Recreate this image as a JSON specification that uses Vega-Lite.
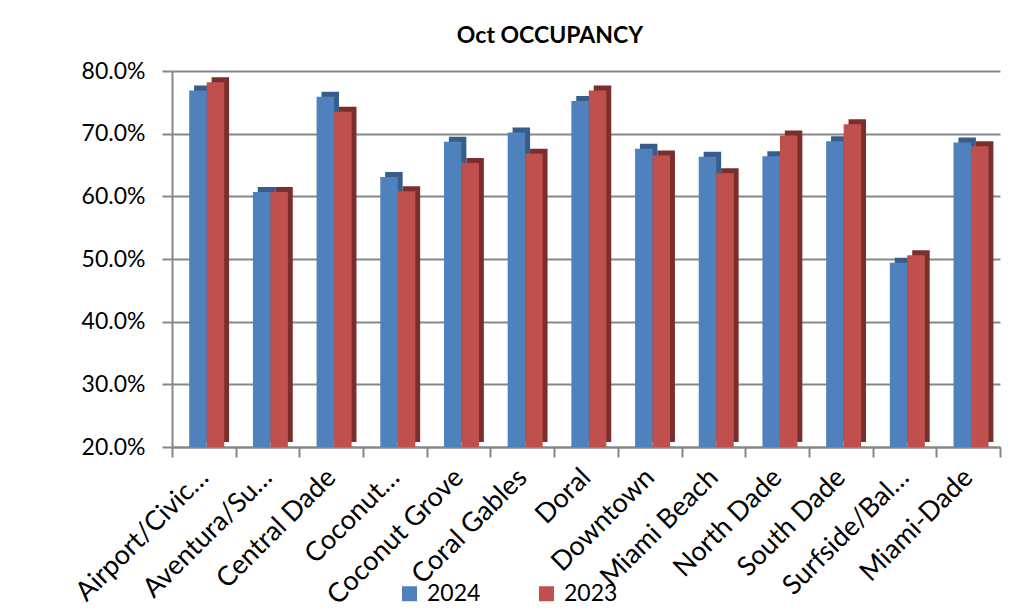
{
  "$schema": "https://vega.github.io/schema/vega-lite/v6.json",
  "autosize": "none",
  "width": 828,
  "height": 376,
  "padding": {"left": 172, "top": 71, "right": 26, "bottom": 167},
  "background": "white",
  "title": {
    "text": "Oct OCCUPANCY",
    "font": "Lato",
    "fontSize": 23,
    "fontWeight": "bold",
    "color": "#000000",
    "anchor": "middle",
    "dx": -36,
    "offset": 12
  },
  "config": {
    "view": {"stroke": null},
    "font": "Lato"
  },
  "data": {
    "values": [
      {"area": "Airport/Civic…", "year": "2024", "occupancy": 0.769},
      {"area": "Airport/Civic…", "year": "2023", "occupancy": 0.782},
      {"area": "Aventura/Su…", "year": "2024", "occupancy": 0.607},
      {"area": "Aventura/Su…", "year": "2023", "occupancy": 0.607},
      {"area": "Central Dade", "year": "2024", "occupancy": 0.759},
      {"area": "Central Dade", "year": "2023", "occupancy": 0.735},
      {"area": "Coconut…", "year": "2024", "occupancy": 0.631},
      {"area": "Coconut…", "year": "2023", "occupancy": 0.608},
      {"area": "Coconut Grove", "year": "2024", "occupancy": 0.687},
      {"area": "Coconut Grove", "year": "2023", "occupancy": 0.653},
      {"area": "Coral Gables", "year": "2024", "occupancy": 0.702},
      {"area": "Coral Gables", "year": "2023", "occupancy": 0.668},
      {"area": "Doral", "year": "2024", "occupancy": 0.752},
      {"area": "Doral", "year": "2023", "occupancy": 0.769},
      {"area": "Downtown", "year": "2024", "occupancy": 0.676},
      {"area": "Downtown", "year": "2023", "occupancy": 0.665},
      {"area": "Miami Beach", "year": "2024", "occupancy": 0.663},
      {"area": "Miami Beach", "year": "2023", "occupancy": 0.637},
      {"area": "North Dade", "year": "2024", "occupancy": 0.664},
      {"area": "North Dade", "year": "2023", "occupancy": 0.697},
      {"area": "South Dade", "year": "2024", "occupancy": 0.688},
      {"area": "South Dade", "year": "2023", "occupancy": 0.715},
      {"area": "Surfside/Bal…", "year": "2024", "occupancy": 0.494},
      {"area": "Surfside/Bal…", "year": "2023", "occupancy": 0.506},
      {"area": "Miami-Dade", "year": "2024", "occupancy": 0.686},
      {"area": "Miami-Dade", "year": "2023", "occupancy": 0.680}
    ]
  },
  "encoding": {
    "x": {
      "field": "area",
      "type": "nominal",
      "sort": null,
      "title": null,
      "scale": {"paddingInner": 0, "paddingOuter": 0},
      "axis": {
        "labelAngle": -45,
        "labelAlign": "right",
        "labelBaseline": "middle",
        "labelFont": "Lato",
        "labelFontSize": 27,
        "labelColor": "#000000",
        "labelPadding": 16,
        "labelLimit": 300,
        "labelOverlap": false,
        "tickBand": "extent",
        "tickSize": 10,
        "tickColor": "#878787",
        "tickWidth": 2,
        "domainColor": "#878787",
        "domainWidth": 2,
        "grid": false
      }
    },
    "y": {
      "field": "occupancy",
      "type": "quantitative",
      "title": null,
      "scale": {"domain": [0.2, 0.8], "zero": false, "nice": false},
      "axis": {
        "format": ".1%",
        "values": [0.2, 0.3, 0.4, 0.5, 0.6, 0.7, 0.8],
        "labelFont": "Lato",
        "labelFontSize": 23,
        "labelColor": "#000000",
        "labelPadding": 17,
        "tickSize": 10,
        "tickColor": "#878787",
        "tickWidth": 2,
        "domainColor": "#878787",
        "domainWidth": 2,
        "grid": true,
        "gridColor": "#878787",
        "gridWidth": 2
      }
    },
    "y2": {"datum": 0.2}
  },
  "layer": [
    {
      "mark": {"type": "bar", "yOffset": -5, "y2Offset": -5},
      "encoding": {
        "xOffset": {
          "field": "year",
          "type": "nominal",
          "sort": ["2024", "2023"],
          "scale": {"paddingInner": 0, "paddingOuter": 0.82, "align": 0.77}
        },
        "color": {
          "condition": {"test": "datum.year === '2024'", "value": "#385D8A"},
          "value": "#7B2F2D"
        }
      }
    },
    {
      "mark": {"type": "bar"},
      "encoding": {
        "xOffset": {
          "field": "year",
          "type": "nominal",
          "sort": ["2024", "2023"],
          "scale": {"paddingInner": 0, "paddingOuter": 0.82, "align": 0.6}
        },
        "color": {
          "field": "year",
          "type": "nominal",
          "scale": {"domain": ["2024", "2023"], "range": ["#4F81BD", "#C0504D"]},
          "legend": {
            "title": null,
            "orient": "none",
            "direction": "horizontal",
            "legendX": 226,
            "legendY": 511,
            "padding": 0,
            "symbolType": "square",
            "symbolSize": 225,
            "symbolStrokeWidth": 0,
            "labelFont": "Lato",
            "labelFontSize": 23,
            "labelColor": "#000000",
            "labelOffset": 6,
            "columnPadding": 54
          }
        }
      }
    }
  ],
  "resolve": {"scale": {"xOffset": "independent"}}
}
